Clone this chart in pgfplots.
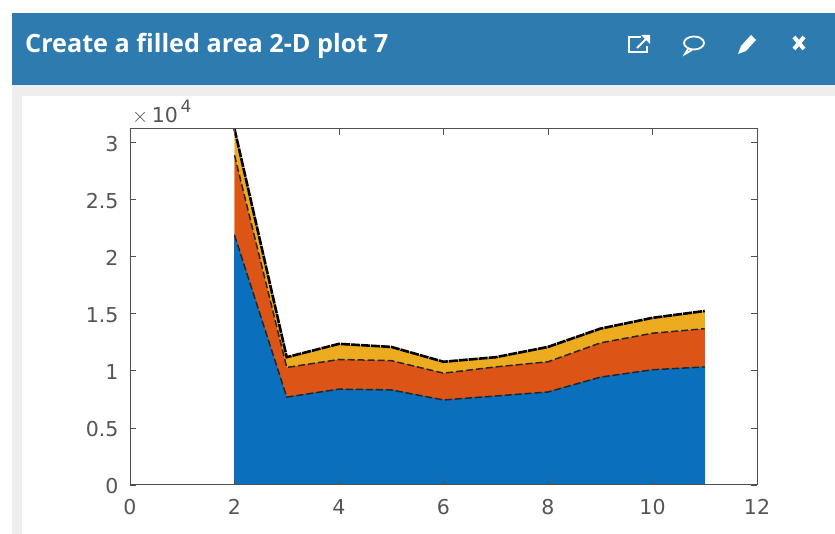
\documentclass[border=0pt]{standalone}
\usepackage{fontspec}
\setmainfont{DejaVu Sans}
\newfontfamily\titlefont{Open Sans}
\usepackage{pgfplots}
\usepackage{pgfplotstable}
\pgfplotsset{compat=1.18}
\definecolor{header}{HTML}{2E7BAF}
\definecolor{band}{HTML}{EEEEEE}
\definecolor{mblue}{HTML}{0A6FBD}
\definecolor{morange}{HTML}{DC5416}
\definecolor{myellow}{HTML}{EDAC1F}
\definecolor{axgray}{HTML}{505050}
\definecolor{labgray}{HTML}{555555}

% cumulative heights of the four layers
\pgfplotstableread{
x  a     b     c     d
2  21900 28900 30900 31200
3  7700  10300 10950 11200
4  8400  11000 12100 12370
5  8330  10900 11900 12100
6  7450  9800  10600 10800
7  7800  10350 11050 11200
8  8150  10800 11800 12100
9  9450  12450 13500 13700
10 10100 13300 14350 14650
11 10350 13700 15000 15250
}\layers

\begin{document}
\begin{tikzpicture}
  \begin{scope}[x=1pt,y=1pt]
  \fill[white] (0,0) rectangle (835,534);
  \fill[band] (12,0) rectangle (835,449);
  \fill[header] (12,449) rectangle (835,521);
  \fill[white] (22,0) rectangle (835,438);
  \node[anchor=west,text=white,inner sep=0pt] at (25,488)
    {\titlefont\bfseries\fontsize{25.2}{28}\selectfont Create a filled area 2-D plot 7};

  % header icons
  \begin{scope}[white,line width=1.8pt]
    \draw (641,497) -- (629,497) -- (629,482) -- (647,482) -- (647,488);
    \draw (637,486) -- (648,497);
    \fill (641,499) -- (650,499) -- (650,490) -- cycle;
    \draw (694,491) ellipse (10pt and 6.5pt);
    \draw (688,485) -- (685,480) -- (692,484);
    \fill (738,480) -- (741,488) -- (751,499) -- (756,494) -- (746,483) -- cycle;
    \draw[line width=4pt] (794,485) -- (804,497);
    \draw[line width=4pt] (794,497) -- (804,485);
  \end{scope}
  \end{scope}

  \begin{axis}[
      at={(130pt,49pt)}, anchor=south west,
      scale only axis,
      width=627pt, height=356pt,
      xmin=0, xmax=12, ymin=0, ymax=31200,
      xtick={0,2,...,12},
      ytick={0,5000,10000,15000,20000,25000,30000},
      scaled y ticks=base 10:-4,
      ytick scale label code/.code={},
      tick align=inside,
      tick pos=both,
      major tick length=6pt,
      axis line style={axgray,line width=1pt},
      tick style={axgray,line width=0.8pt},
      tick label style={font=\fontsize{20.5}{24}\selectfont,text=labgray},
      xticklabel style={yshift=-11pt},
      yticklabel style={xshift=-8pt,yshift=-1pt,/pgf/number format/fixed},
      /pgf/number format/assume math mode=true,
      axis on top,
    ]
    \addplot[fill=myellow,draw=none] table[x=x,y=d] {\layers} \closedcycle;
    \addplot[fill=myellow,draw=none] table[x=x,y=c] {\layers} \closedcycle;
    \addplot[fill=morange,draw=none] table[x=x,y=b] {\layers} \closedcycle;
    \addplot[fill=mblue,draw=mblue,line width=0.6pt] table[x=x,y=a] {\layers} \closedcycle;
    \addplot[black!85,line width=1.5pt,dash pattern=on 7pt off 3pt] table[x=x,y=a] {\layers};
    \addplot[black!85,line width=1.5pt,dash pattern=on 7pt off 3pt] table[x=x,y=b] {\layers};
    \addplot[black,line width=2.6pt,dash pattern=on 9pt off 1pt] table[x=x,y=d] {\layers};
  \end{axis}
  \begin{scope}[x=1pt,y=1pt]
  \node[anchor=south west,inner sep=0pt,text=labgray] at (132,410)
    {\fontsize{20.5}{24}\selectfont $\times\,$10\raisebox{0.45em}{\fontsize{17}{20}\selectfont\,4}};
  \end{scope}
\end{tikzpicture}
\end{document}
